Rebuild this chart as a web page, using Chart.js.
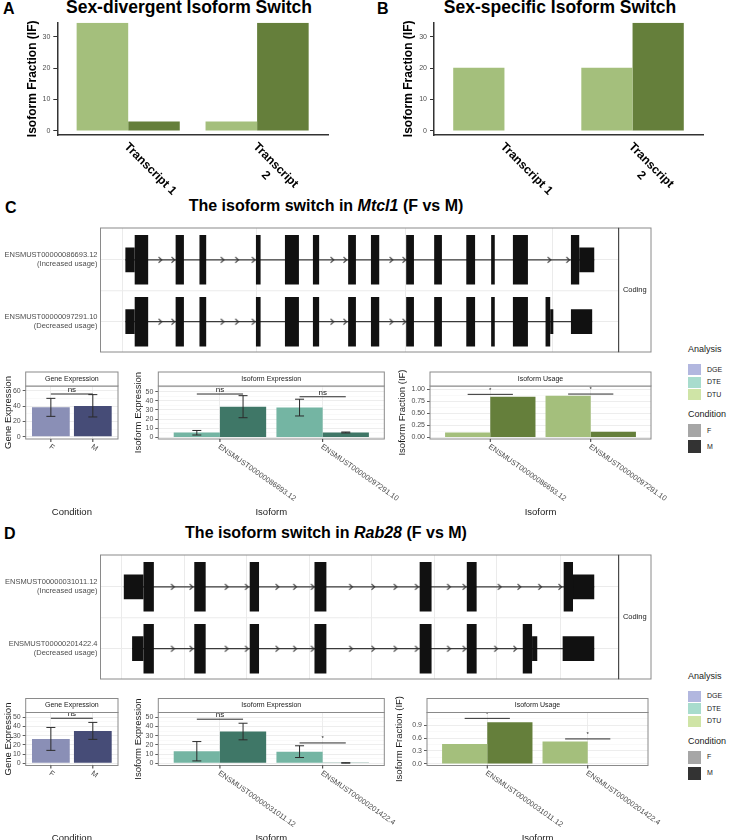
<!DOCTYPE html>
<html>
<head>
<meta charset="utf-8">
<title>Isoform switch</title>
<script src="https://cdn.jsdelivr.net/npm/chart.js@4.4.1/dist/chart.umd.min.js"></script>
<style>
  html, body { margin: 0; background: #fff; }
  #fig { position: relative; width: 729px; height: 840px; overflow: hidden; font-family: "Liberation Sans", Arial, sans-serif; color: #000; }
  #fig canvas { position: absolute; }
  .tag { position: absolute; font-size: 16px; font-weight: bold; line-height: 16px; }
  .title { position: absolute; font-weight: bold; white-space: nowrap; transform: translateX(-50%); line-height: 1; }
  .leg-head { position: absolute; left: 688px; font-size: 9px; line-height: 10px; white-space: nowrap; color: #1a1a1a; }
  .leg-key { position: absolute; left: 688px; width: 13px; }
  .leg-txt { position: absolute; left: 707px; font-size: 7px; line-height: 8px; white-space: nowrap; color: #1a1a1a; }
</style>
</head>
<body>
<div id="fig">
  <div class="tag" style="left:3px;top:1px">A</div>
  <div class="title" style="left:189px;top:-1px;font-size:17.5px">Sex-divergent Isoform Switch</div>
  <div class="tag" style="left:377px;top:1px">B</div>
  <div class="title" style="left:560px;top:-1px;font-size:17.5px">Sex-specific Isoform Switch</div>
  <div class="tag" style="left:5px;top:199.5px">C</div>
  <div class="title" style="left:326px;top:198px;font-size:16px">The isoform switch in <i>Mtcl1</i> (F vs M)</div>
  <div class="tag" style="left:4px;top:526px">D</div>
  <div class="title" style="left:326px;top:524.5px;font-size:16px">The isoform switch in <i>Rab28</i> (F vs M)</div>
</div>
<script>
// ---------- data ----------
const conditions = ['F', 'M'];
const switchLabels = [['Transcript 1'], ['Transcript', '2']];
const switchTicks = [0, 10, 20, 30];
const divergentF = [34.4, 3.0];
const divergentM = [3.0, 34.4];
const specificF = [20.1, 20.1];
const specificM = [0, 34.4];

const analysisTypes = ['DGE', 'DTE', 'DTU'];
const usageNotes = ['(Increased usage)', '(Decreased usage)'];

// Mtcl1 (panel C), exon coordinates in relative genomic units (0-1000)
const mtclIsoforms = ['ENSMUST00000086693.12', 'ENSMUST00000097291.10'];
const mtclCds1 = [[66, 92], [145, 161], [191, 204], [300, 309], [356, 383], [410, 422], [478, 493], [522, 538], [590, 605], [644, 659], [706, 723], [754, 761], [796, 825], [908, 924]];
const mtclUtr1 = [[48, 66], [924, 953]];
const mtclCds2 = [[66, 92], [145, 161], [191, 204], [300, 309], [356, 383], [410, 422], [478, 493], [522, 538], [590, 605], [644, 659], [706, 723], [754, 761], [796, 825], [859, 868]];
const mtclUtr2 = [[48, 66], [868, 874], [908, 949]];
const mtclArrows1 = [115, 140, 235, 263, 295, 447, 472, 561, 586, 866, 902];
const mtclArrows2 = [115, 140, 235, 263, 295, 447, 472, 561, 586];
const mtclGrid = [43, 302, 588, 873];

const mtclGeneMean = [38.5, 40.3];
const mtclGeneLow = [26.7, 25.9];
const mtclGeneHigh = [50.3, 55.2];
const mtclGeneSig = ['ns'];
const mtclGeneSigY = [56];
const mtclExprF = [5.2, 32.6];
const mtclExprFLow = [2.5, 23.4];
const mtclExprFHigh = [7.5, 41.8];
const mtclExprM = [33.6, 5.3];
const mtclExprMLow = [21.5, 4.8];
const mtclExprMHigh = [45.7, 5.8];
const mtclExprSig = ['ns', 'ns'];
const mtclExprSigY = [47.5, 44.5];
const mtclUsageF = [0.10, 0.867];
const mtclUsageM = [0.846, 0.117];
const mtclUsageSig = ['*', '*'];
const mtclUsageSigY = [0.896, 0.902];

// Rab28 (panel D)
const rabIsoforms = ['ENSMUST00000031011.12', 'ENSMUST00000201422.4'];
const rabCds1 = [[83, 103], [181, 203], [288, 306], [413, 436], [616, 639], [707, 726], [894, 912]];
const rabUtr1 = [[45, 83], [912, 953]];
const rabCds2 = [[83, 103], [181, 203], [288, 306], [413, 436], [616, 639], [707, 726], [815, 833]];
const rabUtr2 = [[61, 83], [833, 843], [892, 953]];
const rabArrows1 = [139, 175, 243, 282, 341, 375, 409, 483, 526, 569, 610, 672, 702, 770, 808, 848, 887];
const rabArrows2 = [139, 175, 243, 282, 341, 375, 409, 483, 526, 569, 610, 672, 702, 763, 800];
const rabGrid = [40, 162, 282, 403, 524, 645, 765, 887];

const rabGeneMean = [26.5, 35.2];
const rabGeneLow = [14, 26];
const rabGeneHigh = [39, 44.5];
const rabGeneSig = ['ns'];
const rabGeneSigY = [49];
const rabExprF = [13, 12.6];
const rabExprFLow = [2.5, 6.2];
const rabExprFHigh = [23.6, 19];
const rabExprM = [34.5, 0.3];
const rabExprMLow = [25.5, 0.1];
const rabExprMHigh = [43.6, 0.5];
const rabExprSig = ['ns', '*'];
const rabExprSigY = [48, 22.1];
const rabUsageF = [0.46, 0.52];
const rabUsageM = [0.97, 0];
const rabUsageSig = ['*', '*'];
const rabUsageSigY = [1.06, 0.58];

const geneTicksC = [0, 20, 40, 60];
const exprTicksC = [0, 10, 20, 30, 40, 50];
const usageTicksC = [0, 0.25, 0.5, 0.75, 1];
const usageLabelsC = ['0.00', '0.25', '0.50', '0.75', '1.00'];
const geneTicksD = [0, 10, 20, 30, 40, 50];
const exprTicksD = [0, 10, 20, 30, 40, 50];
const usageTicksD = [0, 0.3, 0.6, 0.9];
const usageLabelsD = ['0.0', '0.3', '0.6', '0.9'];

// ---------- styles ----------
const FONT = '"Liberation Sans", Arial, sans-serif';
const dgeColors = ['#8a8fb6', '#464c77'];
const dteColors = ['#74b5a3', '#3f7767'];
const dtuColors = ['#a4bf7c', '#657f3b'];
const analysisColors = ['#b2b7df', '#a8dccd', '#cfe4a6'];
const conditionColors = ['#a6a6a6', '#333333'];

Chart.defaults.font.family = FONT;
Chart.defaults.animation = false;
Chart.defaults.events = [];
Chart.defaults.plugins.legend.display = false;
Chart.defaults.plugins.tooltip.enabled = false;

const fig = document.getElementById('fig');

function addCanvas(left, top, width, height) {
  const c = document.createElement('canvas');
  c.width = Math.round(width);
  c.height = Math.round(height);
  c.style.left = left + 'px';
  c.style.top = top + 'px';
  c.style.width = c.width + 'px';
  c.style.height = c.height + 'px';
  fig.appendChild(c);
  return c;
}

function drawRotated(ctx, lines, x, y, angle, font, color, lineH) {
  ctx.save();
  ctx.translate(x, y);
  ctx.rotate(angle * Math.PI / 180);
  ctx.font = font;
  ctx.fillStyle = color;
  ctx.textAlign = 'left';
  ctx.textBaseline = 'middle';
  const w0 = ctx.measureText(lines[0]).width;
  lines.forEach((line, k) => {
    const w = ctx.measureText(line).width;
    ctx.fillText(line, (w0 - w) / 2, k * lineH);
  });
  ctx.restore();
}

function drawVertical(ctx, text, x, y, font, color) {
  ctx.save();
  ctx.translate(x, y);
  ctx.rotate(-Math.PI / 2);
  ctx.font = font;
  ctx.fillStyle = color;
  ctx.textAlign = 'center';
  ctx.textBaseline = 'middle';
  ctx.fillText(text, 0, 0);
  ctx.restore();
}

// ---------- panels A and B ----------
function switchChart(cfg) {
  const canvas = addCanvas(cfg.canvasLeft, 0, cfg.canvasWidth, 200);
  const canvasRight = cfg.canvasLeft + cfg.canvasWidth;
  const extras = {
    id: 'switchExtras',
    afterDraw(chart) {
      const { ctx, chartArea: a, scales: { x } } = chart;
      switchLabels.forEach((lines, i) => {
        drawRotated(ctx, lines, x.getPixelForValue(i + 1) - 2, a.bottom + 10, 45, 'bold 12px ' + FONT, '#000', 14);
      });
      drawVertical(ctx, 'Isoform Fraction (IF)', a.left - 25, (a.top + a.bottom) / 2, 'bold 12px ' + FONT, '#000');
    }
  };
  new Chart(canvas, {
    type: 'bar',
    data: {
      datasets: [
        { data: cfg.f.map((v, i) => ({ x: i + 1, y: v })), backgroundColor: dtuColors[0], categoryPercentage: 0.8, barPercentage: 1, borderWidth: 0 },
        { data: cfg.m.map((v, i) => ({ x: i + 1, y: v })), backgroundColor: dtuColors[1], categoryPercentage: 0.8, barPercentage: 1, borderWidth: 0 }
      ]
    },
    options: {
      responsive: false,
      layout: { padding: { left: 0, top: 22.7, bottom: 65, right: canvasRight - cfg.plotRight } },
      scales: {
        x: {
          type: 'linear', min: 0.45, max: 2.55, offset: false,
          afterBuildTicks: (s) => { s.ticks = switchLabels.map((_, i) => ({ value: i + 1 })); },
          ticks: { display: false },
          grid: { display: false, offset: false },
          border: { display: true, color: '#333', width: 1.5 },
          afterFit: (s) => { s.height = 0; }
        },
        y: {
          type: 'linear', min: -1.3, max: 34.45,
          afterBuildTicks: (s) => { s.ticks = switchTicks.map((v) => ({ value: v })); },
          ticks: { font: { size: 7 }, color: '#4d4d4d', padding: 3, autoSkip: false },
          grid: { drawOnChartArea: false, drawTicks: true, tickLength: 4, tickColor: '#333' },
          border: { display: true, color: '#333', width: 1.5 },
          afterFit: (s) => { s.width = cfg.plotLeft - cfg.canvasLeft; }
        }
      }
    },
    plugins: [extras]
  });
}

switchChart({ canvasLeft: 0, canvasWidth: 345, plotLeft: 57.3, plotRight: 328, f: divergentF, m: divergentM });
switchChart({ canvasLeft: 376, canvasWidth: 345, plotLeft: 434, plotRight: 703, f: specificF, m: specificM });

// ---------- isoform structure panels ----------
function chevron() {
  const c = document.createElement('canvas');
  c.width = 6;
  c.height = 8;
  const g = c.getContext('2d');
  g.strokeStyle = '#333';
  g.lineWidth = 1.1;
  g.beginPath();
  g.moveTo(1.5, 1.2);
  g.lineTo(4.6, 4);
  g.lineTo(1.5, 6.8);
  g.stroke();
  return c;
}
const arrowImg = chevron();

function structurePanel(cfg) {
  const canvas = addCanvas(0, cfg.top - 2, 656, 148);
  const cdsData = [];
  const utrData = [];
  const datasets = [];
  cfg.tracks.forEach((t, k) => {
    const track = k + 1;
    t.cds.forEach(([s, e]) => cdsData.push({ y: track, x: [s, e] }));
    t.utr.forEach(([s, e]) => utrData.push({ y: track, x: [s, e] }));
    const all = t.cds.concat(t.utr);
    const start = Math.min(...all.map((r) => r[0]));
    const end = Math.max(...all.map((r) => r[1]));
    datasets.push({
      type: 'line', indexAxis: 'x', order: 2,
      data: [{ x: start, y: track }, { x: end, y: track }],
      borderColor: '#3a3a3a', borderWidth: 1.3, pointRadius: 0
    });
    datasets.push({
      type: 'line', indexAxis: 'x', order: 1, showLine: false,
      data: t.arrows.map((v) => ({ x: v, y: track })),
      pointStyle: arrowImg, pointRadius: 3
    });
  });
  datasets.push({ type: 'bar', order: 0, grouped: false, data: cdsData, backgroundColor: '#111', borderWidth: 0, categoryPercentage: 1, barPercentage: 0.8 });
  datasets.push({ type: 'bar', order: 0, grouped: false, data: utrData, backgroundColor: '#111', borderWidth: 0, categoryPercentage: 1, barPercentage: 0.4 });

  const extras = {
    id: 'structureExtras',
    beforeDatasetsDraw(chart) {
      const { ctx, chartArea: a, scales: { y } } = chart;
      const mid = y.getPixelForValue(1.5);
      ctx.save();
      ctx.strokeStyle = '#ebebeb';
      ctx.lineWidth = 1;
      ctx.beginPath();
      ctx.moveTo(a.left, mid);
      ctx.lineTo(a.right, mid);
      ctx.stroke();
      ctx.restore();
    },
    afterDraw(chart) {
      const { ctx, chartArea: a } = chart;
      ctx.save();
      ctx.strokeStyle = '#8a8a8a';
      ctx.lineWidth = 1;
      ctx.strokeRect(a.left, a.top, a.right - a.left, a.bottom - a.top);
      ctx.strokeRect(a.right, a.top, 32.4, a.bottom - a.top);
      ctx.strokeStyle = '#444';
      ctx.beginPath();
      ctx.moveTo(a.right, a.top);
      ctx.lineTo(a.right, a.bottom);
      ctx.stroke();
      ctx.fillStyle = '#1a1a1a';
      ctx.font = '7.5px ' + FONT;
      ctx.textAlign = 'center';
      ctx.textBaseline = 'middle';
      ctx.fillText('Coding', a.right + 16.2, (a.top + a.bottom) / 2);
      ctx.restore();
    }
  };

  new Chart(canvas, {
    type: 'bar',
    data: { datasets },
    options: {
      responsive: false,
      indexAxis: 'y',
      layout: { padding: { left: 0, top: 2, bottom: 2, right: 656 - 618.6 } },
      scales: {
        x: {
          type: 'linear', min: 0, max: 1000, offset: false, beginAtZero: false,
          afterBuildTicks: (s) => { s.ticks = cfg.grid.map((v) => ({ value: v })); },
          ticks: { display: false },
          grid: { color: '#ebebeb', drawTicks: false, offset: false },
          border: { display: false },
          afterFit: (s) => { s.height = 0; }
        },
        y: {
          type: 'linear', min: 0.485, max: 2.49, reverse: true, offset: false,
          afterBuildTicks: (s) => { s.ticks = cfg.names.map((_, i) => ({ value: i + 1 })); },
          ticks: {
            font: { size: 7.5 }, color: '#4d4d4d', padding: 3, autoSkip: false,
            callback: (v) => [cfg.names[v - 1], usageNotes[v - 1]]
          },
          grid: { color: '#ebebeb', drawTicks: false, offset: false },
          border: { display: false },
          afterFit: (s) => { s.width = 100.5; }
        }
      }
    },
    plugins: [extras]
  });
}

structurePanel({
  top: 218, names: mtclIsoforms, grid: mtclGrid,
  tracks: [
    { cds: mtclCds1, utr: mtclUtr1, arrows: mtclArrows1 },
    { cds: mtclCds2, utr: mtclUtr2, arrows: mtclArrows2 }
  ]
});
structurePanel({
  top: 544.5, names: rabIsoforms, grid: rabGrid,
  tracks: [
    { cds: rabCds1, utr: rabUtr1, arrows: rabArrows1 },
    { cds: rabCds2, utr: rabUtr2, arrows: rabArrows2 }
  ]
});

// ---------- expression / usage bar panels ----------
function subPanel(cfg) {
  const cTop = Math.floor(cfg.top) - 17;
  const cBottom = Math.round(cfg.bottom) + cfg.padBottom;
  const cRight = Math.round(cfg.right) + cfg.padRight;
  const canvas = addCanvas(cfg.canvasLeft, cTop, cRight - cfg.canvasLeft, cBottom - cTop);
  const step = cfg.yTicks[1] - cfg.yTicks[0];
  const minors = cfg.yTicks.map((v) => v + step / 2).filter((v) => v < cfg.yMax);
  const allTicks = cfg.yTicks.concat(minors).sort((a, b) => a - b);
  const majorIndex = (v) => cfg.yTicks.findIndex((t) => Math.abs(t - v) < 1e-9);
  const isMajor = (c) => !c.tick || majorIndex(c.tick.value) >= 0;

  const extras = {
    id: 'panelExtras',
    afterDatasetsDraw(chart) {
      const { ctx, scales: { x, y } } = chart;
      ctx.save();
      ctx.strokeStyle = '#2b2b2b';
      ctx.lineWidth = 1;
      cfg.errors.forEach((e) => e.low.forEach((lo, i) => {
        const px = x.getPixelForValue(i + 1 + e.offset);
        const y0 = y.getPixelForValue(lo);
        const y1 = y.getPixelForValue(e.high[i]);
        ctx.beginPath();
        ctx.moveTo(px, y0); ctx.lineTo(px, y1);
        ctx.moveTo(px - 4.5, y0); ctx.lineTo(px + 4.5, y0);
        ctx.moveTo(px - 4.5, y1); ctx.lineTo(px + 4.5, y1);
        ctx.stroke();
      }));
      ctx.fillStyle = '#1a1a1a';
      ctx.textAlign = 'center';
      ctx.textBaseline = 'bottom';
      cfg.sig.forEach((s) => {
        const x0 = x.getPixelForValue(s.x0);
        const x1 = x.getPixelForValue(s.x1);
        const py = y.getPixelForValue(s.y);
        ctx.beginPath();
        ctx.moveTo(x0, py); ctx.lineTo(x1, py);
        ctx.stroke();
        ctx.font = (s.text === 'ns' ? '8px ' : '6px ') + FONT;
        ctx.fillText(s.text, (x0 + x1) / 2, py - (s.text === 'ns' ? 0 : 1.5));
      });
      ctx.restore();
    },
    afterDraw(chart) {
      const { ctx, chartArea: a, scales: { x } } = chart;
      ctx.save();
      ctx.strokeStyle = '#8a8a8a';
      ctx.lineWidth = 1;
      ctx.strokeRect(a.left, a.top, a.right - a.left, a.bottom - a.top);
      ctx.fillStyle = '#fff';
      ctx.fillRect(a.left, a.top - 14, a.right - a.left, 14);
      ctx.strokeRect(a.left, a.top - 14, a.right - a.left, 14);
      ctx.fillStyle = '#1a1a1a';
      ctx.font = '7px ' + FONT;
      ctx.textAlign = 'center';
      ctx.textBaseline = 'middle';
      ctx.fillText(cfg.strip, (a.left + a.right) / 2, a.top - 7);
      ctx.strokeStyle = '#333';
      cfg.xLabels.forEach((lab, i) => {
        const px = x.getPixelForValue(i + 1);
        ctx.beginPath();
        ctx.moveTo(px, a.bottom); ctx.lineTo(px, a.bottom + 3);
        ctx.stroke();
        drawRotated(ctx, [lab], px - 1, a.bottom + 7, 35, '7.5px ' + FONT, '#4d4d4d', 9);
      });
      ctx.fillStyle = '#1a1a1a';
      ctx.font = '9.5px ' + FONT;
      ctx.textAlign = 'center';
      ctx.textBaseline = 'middle';
      ctx.fillText(cfg.xTitle, (a.left + a.right) / 2, cfg.xTitleY - cTop);
      drawVertical(ctx, cfg.yTitle, cfg.yTitleX - cfg.canvasLeft, (a.top + a.bottom) / 2, '9.5px ' + FONT, '#1a1a1a');
      ctx.restore();
    }
  };

  new Chart(canvas, {
    type: 'bar',
    data: { datasets: cfg.datasets },
    options: {
      responsive: false,
      layout: { padding: { left: 0, right: cRight - cfg.right, top: cfg.top - cTop, bottom: cBottom - cfg.bottom } },
      scales: {
        x: {
          type: 'linear', min: 0.4, max: 2.6, offset: false,
          afterBuildTicks: (s) => { s.ticks = [{ value: 1 }, { value: 2 }]; },
          ticks: { display: false },
          grid: { color: '#e8e8e8', lineWidth: 0.8, drawTicks: false, offset: false },
          border: { display: false },
          afterFit: (s) => { s.height = 0; }
        },
        y: {
          type: 'linear', min: cfg.yMin, max: cfg.yMax, beginAtZero: false,
          afterBuildTicks: (s) => { s.ticks = allTicks.map((v) => ({ value: v })); },
          ticks: {
            font: { size: 7 }, color: '#4d4d4d', padding: 2, autoSkip: false,
            callback: (v) => {
              const i = majorIndex(v);
              return i < 0 ? '' : cfg.yLabels[i];
            }
          },
          grid: {
            color: (c) => (isMajor(c) ? '#e8e8e8' : '#f3f3f3'),
            lineWidth: (c) => (isMajor(c) ? 0.8 : 0.5),
            tickColor: (c) => (isMajor(c) ? '#333' : 'rgba(0,0,0,0)'),
            tickLength: 3
          },
          border: { display: false },
          afterFit: (s) => { s.width = cfg.left - cfg.canvasLeft; }
        }
      }
    },
    plugins: [extras]
  });
}

function genePanel(o) {
  subPanel({
    canvasLeft: 0, left: 25.7, right: 118, top: o.top, bottom: o.top + 53, padRight: 10, padBottom: 90,
    yMin: o.yMin, yMax: o.yMax, yTicks: o.ticks, yLabels: o.ticks.map(String),
    strip: 'Gene Expression', yTitle: 'Gene Expression', yTitleX: 8, xTitle: 'Condition', xTitleY: o.top + 126,
    xLabels: conditions,
    datasets: [{ data: o.mean.map((v, i) => ({ x: i + 1, y: v })), backgroundColor: dgeColors, borderWidth: 0, categoryPercentage: 0.9, barPercentage: 1 }],
    errors: [{ offset: 0, low: o.low, high: o.high }],
    sig: o.sig.map((t, i) => ({ x0: 1, x1: 2, y: o.sigY[i], text: t }))
  });
}

function dodgePanel(o) {
  const errors = [];
  if (o.fLow) errors.push({ offset: -0.225, low: o.fLow, high: o.fHigh });
  if (o.mLow) errors.push({ offset: 0.225, low: o.mLow, high: o.mHigh });
  subPanel({
    canvasLeft: o.canvasLeft, left: o.left, right: o.right, top: o.top, bottom: o.top + 53, padRight: 28, padBottom: 90,
    yMin: o.yMin, yMax: o.yMax, yTicks: o.ticks, yLabels: o.labels || o.ticks.map(String),
    strip: o.strip, yTitle: o.yTitle, yTitleX: o.yTitleX, xTitle: 'Isoform', xTitleY: o.top + 126,
    xLabels: o.isoforms,
    datasets: [
      { data: o.f.map((v, i) => ({ x: i + 1, y: v })), backgroundColor: o.colors[0], borderWidth: 0, categoryPercentage: 0.9, barPercentage: 1 },
      { data: o.m.map((v, i) => ({ x: i + 1, y: v })), backgroundColor: o.colors[1], borderWidth: 0, categoryPercentage: 0.9, barPercentage: 1 }
    ],
    errors,
    sig: o.sig.map((t, i) => ({ x0: i + 1 - 0.225, x1: i + 1 + 0.225, y: o.sigY[i], text: t }))
  });
}

// panel C
genePanel({ top: 386, yMin: -3, yMax: 66.5, ticks: geneTicksC, mean: mtclGeneMean, low: mtclGeneLow, high: mtclGeneHigh, sig: mtclGeneSig, sigY: mtclGeneSigY });
dodgePanel({
  canvasLeft: 120, left: 158.3, right: 384.3, top: 386, yMin: -1.86, yMax: 56.3, ticks: exprTicksC,
  strip: 'Isoform Expression', yTitle: 'Isoform Expression', yTitleX: 138.5, isoforms: mtclIsoforms, colors: dteColors,
  f: mtclExprF, fLow: mtclExprFLow, fHigh: mtclExprFHigh, m: mtclExprM, mLow: mtclExprMLow, mHigh: mtclExprMHigh,
  sig: mtclExprSig, sigY: mtclExprSigY
});
dodgePanel({
  canvasLeft: 388, left: 430, right: 651, top: 386, yMin: -0.035, yMax: 1.07, ticks: usageTicksC, labels: usageLabelsC,
  strip: 'Isoform Usage', yTitle: 'Isoform Fraction (IF)', yTitleX: 402.5, isoforms: mtclIsoforms, colors: dtuColors,
  f: mtclUsageF, m: mtclUsageM, sig: mtclUsageSig, sigY: mtclUsageSigY
});

// panel D
genePanel({ top: 712.5, yMin: -2.5, yMax: 55.3, ticks: geneTicksD, mean: rabGeneMean, low: rabGeneLow, high: rabGeneHigh, sig: rabGeneSig, sigY: rabGeneSigY });
dodgePanel({
  canvasLeft: 120, left: 158.3, right: 384.3, top: 712.5, yMin: -2.5, yMax: 55.3, ticks: exprTicksD,
  strip: 'Isoform Expression', yTitle: 'Isoform Expression', yTitleX: 138.5, isoforms: rabIsoforms, colors: dteColors,
  f: rabExprF, fLow: rabExprFLow, fHigh: rabExprFHigh, m: rabExprM, mLow: rabExprMLow, mHigh: rabExprMHigh,
  sig: rabExprSig, sigY: rabExprSigY
});
dodgePanel({
  canvasLeft: 385, left: 427, right: 648, top: 712.5, yMin: -0.04, yMax: 1.197, ticks: usageTicksD, labels: usageLabelsD,
  strip: 'Isoform Usage', yTitle: 'Isoform Fraction (IF)', yTitleX: 399.5, isoforms: rabIsoforms, colors: dtuColors,
  f: rabUsageF, m: rabUsageM, sig: rabUsageSig, sigY: rabUsageSigY
});

// ---------- legends ----------
function addEl(cls, css, text) {
  const d = document.createElement('div');
  d.className = cls;
  Object.assign(d.style, css);
  if (text) d.textContent = text;
  fig.appendChild(d);
}

function legend(dy) {
  addEl('leg-head', { top: (344 + dy) + 'px' }, 'Analysis');
  analysisTypes.forEach((name, i) => {
    const top = 364 + dy + i * 12.6;
    addEl('leg-key', { top: top + 'px', height: '11px', background: analysisColors[i] });
    addEl('leg-txt', { top: (top + 1.5) + 'px' }, name);
  });
  addEl('leg-head', { top: (409.3 + dy) + 'px' }, 'Condition');
  conditions.forEach((name, i) => {
    const top = 424 + dy + i * 16;
    addEl('leg-key', { top: top + 'px', height: '13px', background: conditionColors[i] });
    addEl('leg-txt', { top: (top + 2.5) + 'px' }, name);
  });
}
legend(0);
legend(326.5);
</script>
</body>
</html>
